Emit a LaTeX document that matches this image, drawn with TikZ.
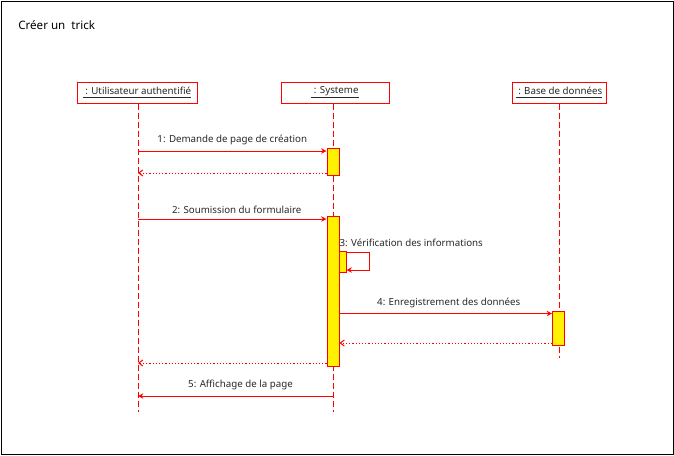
\documentclass[tikz,border=0pt]{standalone}
\usepackage{fontspec}
\setmainfont{Noto Sans}
\usetikzlibrary{arrows.meta}
\definecolor{umlred}{RGB}{255,0,0}
\definecolor{umltext}{RGB}{40,40,40}
\tikzset{
  headbox/.style={draw=umlred, line width=0.75pt, fill=white, minimum height=21*0.75pt,
    inner sep=0pt, text=umltext, font=\fontsize{7.3}{8}\selectfont},
  lifeline/.style={draw=umlred, line width=0.75pt, dash pattern=on 4.5pt off 2.25pt},
  actbox/.style={draw=umlred, fill=yellow, line width=0.75pt, minimum width=12*0.75pt,
    inner sep=0pt},
  msg/.style={draw=umlred, line width=0.75pt, -{Stealth[length=4pt,width=4pt]}},
  ret/.style={draw=umlred, line width=0.75pt, dash pattern=on 0.9pt off 1.5pt,
    -{Straight Barb[length=3pt,width=4.5pt]}},
  lbl/.style={text=umltext, font=\fontsize{7.3}{8}\selectfont, inner sep=1pt}
}
\begin{document}
\begin{tikzpicture}[x=0.75pt, y=-0.75pt]
% frame
\useasboundingbox (0,0) rectangle (674,455);
\draw[black, line width=0.75pt] (1,1) rectangle (673,454);
\node[anchor=base west, text=black, font=\fontsize{8.7}{10}\selectfont, inner sep=0pt] (title) at (18,29) {Créer un\ \ trick};

% lifeline heads
\node[headbox, minimum width=120*0.75pt] (user) at (137,92.5) {\underline{\ : Utilisateur authentifié}};
\node[headbox, minimum width=108*0.75pt] (sys) at (335,92.5) {\underline{\ : Systeme}};
\node[headbox, minimum width=94*0.75pt] (db) at (559,92.5) {\underline{\ : Base de données}};

% lifeline ends
\coordinate (userEnd) at (138,412);
\coordinate (sysEnd) at (333,412);
\coordinate (dbEnd) at (559,358);
\draw[lifeline] (user.south -| userEnd) -- (userEnd);
\draw[lifeline] (sys.south -| sysEnd) -- (sysEnd);
\draw[lifeline] (db.south -| dbEnd) -- (dbEnd);

% activations
\node[actbox, minimum height=27*0.75pt] (act1) at (333,161.5) {};
\node[actbox, minimum height=150*0.75pt] (act2) at (333,291) {};
\node[actbox, minimum width=7*0.75pt, minimum height=21*0.75pt] (act3) at (342.5,261.5) {};
\node[actbox, minimum height=34*0.75pt] (act4) at (558.5,328) {};

% message points on the lifelines
\coordinate (m1s) at (138,151);
\coordinate (r1e) at (138,173);
\coordinate (m2s) at (138,219);
\coordinate (r2e) at (138,363);
\coordinate (m5e) at (138,396);
\coordinate (m5s) at (333,396);
\coordinate (loopA) at (369,252);
\coordinate (loopB) at (369,270);

% 1
\draw[msg] (m1s) -- (m1s -| act1.west) node[lbl, midway, above=3pt] (l1) {1: Demande de page de création};
\draw[ret] (r1e -| act1.west) -- (r1e);
% 2
\draw[msg] (m2s) -- (m2s -| act2.west) node[lbl, midway, above=3pt, xshift=4.5*0.75pt] (l2) {2: Soumission du formulaire};
% 3 (self call)
\draw[msg] (act3.east |- loopA) -- (loopA) -- (loopB) -- (act3.east |- loopB);
\node[lbl, anchor=base west] (l3) at (338,246) {3: Vérification des informations};
% 4
\draw[msg] (act2.east |- act4.north) ++(0,3) coordinate (m4s) -- (m4s -| act4.west) node[lbl, midway, above=3pt, xshift=3*0.75pt] (l4) {4: Enregistrement des données};
\draw[ret] (act4.west |- 0,343) -- (act2.east |- 0,343);
% return of 2
\draw[ret] (r2e -| act2.west) -- (r2e);
% 5
\draw[msg] (m5s) -- (m5e) node[lbl, midway, above=3pt, xshift=5*0.75pt] (l5) {5: Affichage de la page};
\end{tikzpicture}
\end{document}
